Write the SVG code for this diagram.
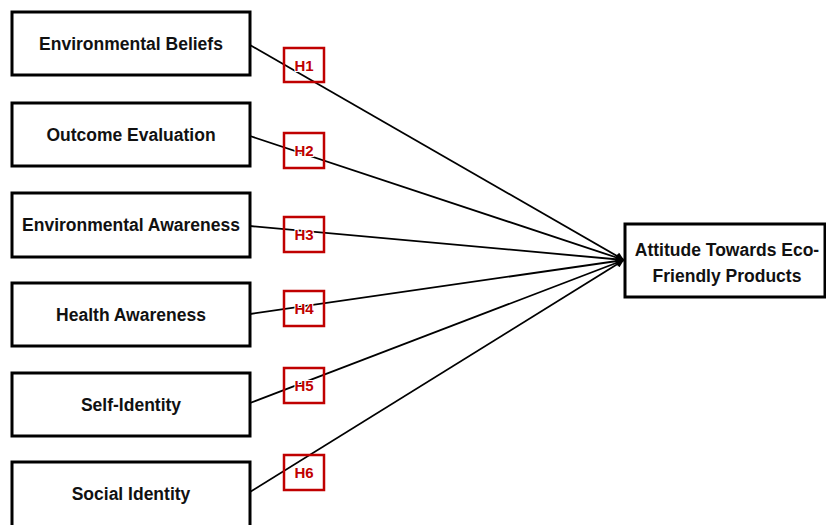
<svg xmlns="http://www.w3.org/2000/svg" width="826" height="525" viewBox="0 0 826 525">
<style>
.box{fill:#fff;stroke:#000;stroke-width:3}
.lbl{font-family:"Liberation Sans",Arial,sans-serif;font-weight:bold;font-size:17.5px;fill:#111;text-anchor:middle}
.hbox{fill:none;stroke:#C00000;stroke-width:2.5}
.h{font-family:"Liberation Sans",Arial,sans-serif;font-weight:bold;font-size:15px;fill:#C00000;text-anchor:middle;stroke:#fff;stroke-width:2;paint-order:stroke}
.con{stroke:#000;stroke-width:1.8;fill:none;marker-end:url(#arr)}
</style>
<defs>
<marker id="arr" viewBox="0 0 10 10" refX="10" refY="5" markerWidth="10" markerHeight="8" markerUnits="userSpaceOnUse" orient="auto">
<path d="M0,0 L10,5 L0,10 z" fill="#000"/>
</marker>
</defs>
<g id="connectors">
<line class="con" x1="250" y1="45" x2="624" y2="260"/>
<line class="con" x1="250" y1="136" x2="624" y2="260"/>
<line class="con" x1="250" y1="226" x2="624" y2="260"/>
<line class="con" x1="250" y1="314" x2="624" y2="260"/>
<line class="con" x1="250" y1="403" x2="624" y2="260"/>
<line class="con" x1="250" y1="492" x2="624" y2="260"/>
</g>
<g id="n1"><rect class="box" x="12" y="12" width="238" height="63"/><text class="lbl" x="131" y="50">Environmental Beliefs</text></g>
<g id="n2"><rect class="box" x="12" y="103" width="238" height="63"/><text class="lbl" x="131" y="141">Outcome Evaluation</text></g>
<g id="n3"><rect class="box" x="12" y="193" width="238" height="64"/><text class="lbl" x="131" y="231">Environmental Awareness</text></g>
<g id="n4"><rect class="box" x="12" y="283" width="238" height="63"/><text class="lbl" x="131" y="321">Health Awareness</text></g>
<g id="n5"><rect class="box" x="12" y="373" width="238" height="63"/><text class="lbl" x="131" y="411">Self-Identity</text></g>
<g id="n6"><rect class="box" x="12" y="462" width="238" height="66"/><text class="lbl" x="131" y="500">Social Identity</text></g>
<g id="target"><rect class="box" x="625" y="224" width="200" height="73"/><text class="lbl" x="727" y="256">Attitude Towards Eco-</text><text class="lbl" x="727" y="282">Friendly Products</text></g>
<g id="h1"><rect class="hbox" x="284" y="48" width="40" height="34"/><text class="h" x="304" y="71">H1</text></g>
<g id="h2"><rect class="hbox" x="284" y="133" width="40" height="35"/><text class="h" x="304" y="156">H2</text></g>
<g id="h3"><rect class="hbox" x="284" y="217" width="40" height="35"/><text class="h" x="304" y="240">H3</text></g>
<g id="h4"><rect class="hbox" x="284" y="291" width="40" height="35"/><text class="h" x="304" y="314">H4</text></g>
<g id="h5"><rect class="hbox" x="284" y="368" width="40" height="35"/><text class="h" x="304" y="391">H5</text></g>
<g id="h6"><rect class="hbox" x="284" y="455" width="40" height="35"/><text class="h" x="304" y="478">H6</text></g>
</svg>
